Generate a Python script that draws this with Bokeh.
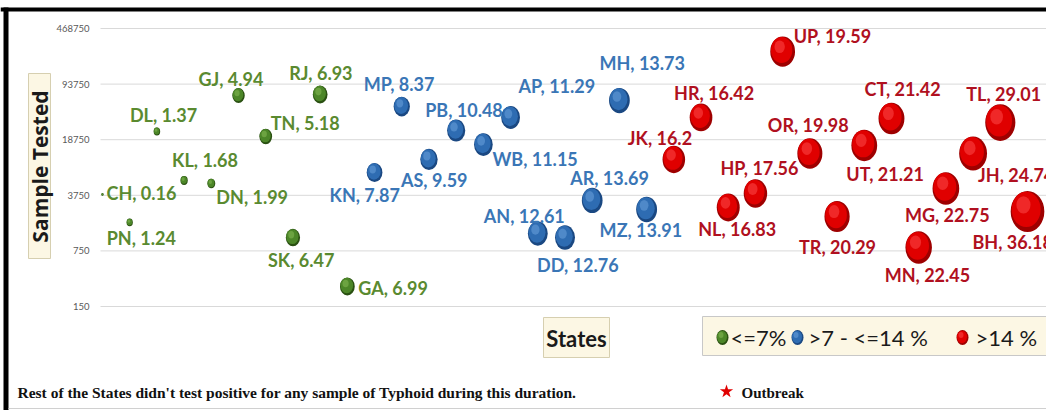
import math
from bokeh.plotting import figure
from bokeh.models import ColumnDataSource, Range1d, LinearScale, LogScale
from bokeh.core.properties import value
from bokeh.embed import file_html
from bokeh.resources import INLINE

# ---------------- data ----------------
states = ["CH", "PN", "DL", "KL", "DN", "GJ", "TN", "SK", "RJ", "GA",
          "KN", "MP", "AS", "PB", "WB", "AP", "AN", "DD", "AR", "MH", "MZ",
          "JK", "HR", "NL", "HP", "UP", "OR", "TR", "UT", "CT", "MN", "MG", "JH", "TL", "BH"]
positivity = [0.16, 1.24, 1.37, 1.68, 1.99, 4.94, 5.18, 6.47, 6.93, 6.99,
              7.87, 8.37, 9.59, 10.48, 11.15, 11.29, 12.61, 12.76, 13.69, 13.73, 13.91,
              16.2, 16.42, 16.83, 17.56, 19.59, 19.98, 20.29, 21.21, 21.42, 22.45, 22.75, 24.74, 29.01, 36.18]
samples_tested = [3840, 1710, 23800, 5760, 5280, 67400, 20600, 1105, 69400, 268,
                  7260, 49000, 10600, 24500, 16300, 35700, 1240, 1105, 3230, 58300, 2490,
                  10600, 35700, 2640, 3950, 240600, 12600, 2030, 15900, 34600, 828, 4570, 12600, 30800, 2350]
y_ticks = [150, 750, 3750, 18750, 93750, 468750]
y_tick_labels = ["150", "750", "3750", "18750", "93750", "468750"]
group_names = ["<=7%", ">7 - <=14 %", ">14 %"]
group_limits = [7, 14]
x_title = "States"
y_title = "Sample Tested"
footnote = "Rest of the States didn't test positive for any sample of Typhoid  during this duration."
outbreak_note = "Outbreak"

# ---------------- label placement (pixels, relative to bubble) ----------------
label_dx = [4, -23, -27, -12, 5, -40, 5, -25, -31, 11,
            -45, -38, -28, -31, 9, 8, -54, -28, -22, -20, -47,
            -46, -27, -30, -35, 11, -42, -38, -18, -27, -34, -41, 5, -34, -55]
label_dy = [-1, 16, -16, -20, 14, -16, -13, 22, -21, 2,
            23, -23, 21, -20, 14, -31, -18, 27, -22, -38, 21,
            -21, -24, 22, -26, -16, -28, 30, 29, -30, 28, 27, 22, -29, 31]

edge_col = ["#2A5012", "#1A4882", "#9E0000"]
mid_col = ["#4C8628", "#2E6CB2", "#E00000"]
light_col = ["#8CC05A", "#6FA6E0", "#FF5050"]
text_col = ["#5A8A30", "#3A76B6", "#B01020"]


def group_of(v):
    if v <= group_limits[0]:
        return 0
    if v <= group_limits[1]:
        return 1
    return 2


x_pos = [i + 1 for i in range(len(states))]          # states ordered by positivity
grp = [group_of(v) for v in positivity]
bw = [5.6 * math.sqrt(v) for v in positivity]          # bubble area ~ positivity
bh = [1.22 * w for w in bw]                            # picture is stretched vertically

# ---------------- canvas / scales ----------------
W, H = 1046, 410
X_FIRST, X_STEP = 102.0, 27.206       # pixel of first state, pixels per state
Y_BOT, Y_TOP = 306.0, 28.0            # pixels of lowest and highest tick
lo, hi = y_ticks[0], y_ticks[-1]
ppl = (Y_BOT - Y_TOP) / (math.log(hi) - math.log(lo))   # pixels per ln unit
val_start = math.exp(math.log(lo) - (H - Y_BOT) / ppl)
val_end = math.exp(math.log(hi) + Y_TOP / ppl)
idx_start = 1 - X_FIRST / X_STEP
idx_end = idx_start + W / X_STEP

p = figure(width=W, height=H, output_backend="svg", toolbar_location=None,
           x_range=Range1d(0, W), y_range=Range1d(H, 0),
           x_axis_location=None, y_axis_location=None,
           min_border=0, min_border_left=0, min_border_right=0,
           min_border_top=0, min_border_bottom=0)
p.outline_line_color = None
p.background_fill_color = "white"
p.border_fill_color = "white"
for gr in p.grid:
    gr.visible = False
p.extra_x_ranges = {"idx": Range1d(idx_start, idx_end)}
p.extra_x_scales = {"idx": LinearScale()}
p.extra_y_ranges = {"val": Range1d(val_start, val_end)}
p.extra_y_scales = {"val": LogScale()}

CREAM = "#FCF7E4"
BOXLINE = "#D6CFB0"

# ---------------- gridlines and tick labels (log scale) ----------------
tick_src = ColumnDataSource(dict(y=y_ticks, t=y_tick_labels))
p.segment(x0=100, x1=W, y0="y", y1="y", source=tick_src, y_range_name="val",
          line_color="#D9D9D9", line_width=1)
p.text(x=89, y="y", text="t", source=tick_src, y_range_name="val",
       text_font=value("Lato"), text_font_size="9.5px", text_color="#595959",
       text_align="right", text_baseline="middle")

# ---------------- bubbles (shaded like spheres) ----------------
def shifted(i, fx, fy):
    """bubble centre moved by a fraction of its own screen size (for shading)"""
    return (x_pos[i] + fx * bw[i] / X_STEP,
            samples_tested[i] * math.exp(-fy * bh[i] / ppl))

for g in range(3):
    idx = [i for i in range(len(states)) if grp[i] == g]
    mids = [shifted(i, -0.04, -0.05) for i in idx]
    hls = [shifted(i, -0.12, -0.16) for i in idx]
    src = ColumnDataSource(dict(
        x=[x_pos[i] for i in idx],
        y=[samples_tested[i] for i in idx],
        w=[bw[i] for i in idx], h=[bh[i] for i in idx],
        xm=[m[0] for m in mids], ym=[m[1] for m in mids],
        w2=[bw[i] * 0.86 for i in idx], h2=[bh[i] * 0.86 for i in idx],
        xh=[m[0] for m in hls], yh=[m[1] for m in hls],
        w3=[bw[i] * 0.42 for i in idx], h3=[bh[i] * 0.42 for i in idx],
    ))
    kw = dict(source=src, x_range_name="idx", y_range_name="val",
              width_units="screen", height_units="screen", line_color=None)
    p.ellipse("x", "y", width="w", height="h", fill_color=edge_col[g], **kw)
    p.ellipse("xm", "ym", width="w2", height="h2", fill_color=mid_col[g], **kw)
    p.ellipse("xh", "yh", width="w3", height="h3", fill_color=light_col[g], fill_alpha=0.5, **kw)

# ---------------- data labels ----------------
lab_src = ColumnDataSource(dict(
    x=x_pos, y=samples_tested,
    text=[f"{s}, {v:g}" for s, v in zip(states, positivity)],
    dx=label_dx, dy=label_dy,
    color=[text_col[g] for g in grp],
))
p.text("x", "y", text="text", x_offset="dx", y_offset="dy", source=lab_src,
       x_range_name="idx", y_range_name="val",
       text_font=value("Lato"), text_font_style="bold", text_font_size="18px",
       text_color="color", text_align="left", text_baseline="middle")

# ---------------- axis titles in cream boxes ----------------
p.quad(left=[28], right=[50], top=[73], bottom=[258], fill_color=CREAM, line_color=BOXLINE)
p.text(x=[39.5], y=[166], text=[y_title], angle=math.pi / 2,
       text_font=value("Open Sans"), text_font_style="bold", text_font_size="21px",
       text_color="#1A1A1A", text_align="center", text_baseline="middle")
p.quad(left=[543], right=[609], top=[317], bottom=[357], fill_color=CREAM, line_color=BOXLINE)
p.text(x=[576], y=[338], text=[x_title],
       text_font=value("Lato"), text_font_style="bold", text_font_size="22px",
       text_color="#1A1A1A", text_align="center", text_baseline="middle")

# ---------------- legend ----------------
p.quad(left=[702], right=[1052], top=[316], bottom=[355], fill_color=CREAM, line_color="#C8C8C8")
leg_x = [722, 797, 962]
leg_tx = [730, 808, 975]
for g in range(3):
    p.ellipse(x=[leg_x[g]], y=[337], width=[12], height=[15], width_units="screen",
              height_units="screen", fill_color=edge_col[g], line_color=None)
    p.ellipse(x=[leg_x[g] - 0.5], y=[336.5], width=[10], height=[12.5], width_units="screen",
              height_units="screen", fill_color=mid_col[g], line_color=None)
    p.ellipse(x=[leg_x[g] - 1.5], y=[334.5], width=[5], height=[6], width_units="screen",
              height_units="screen", fill_color=light_col[g], fill_alpha=0.5, line_color=None)
    p.text(x=[leg_tx[g]], y=[337], text=[group_names[g]],
           text_font=value("Lato"), text_font_size="22px", text_color="#1A1A1A",
           text_align="left", text_baseline="middle")

# ---------------- footnote ----------------
p.text(x=[17], y=[392], text=[footnote], text_font=value("Liberation Serif"),
       text_font_style="bold", text_font_size="15.5px", text_color="#111111",
       text_align="left", text_baseline="middle")
p.scatter(x=[726], y=[391], marker="star", size=14, fill_color="#E00000", line_color=None)
p.text(x=[741], y=[392], text=[outbreak_note], text_font=value("Liberation Serif"),
       text_font_style="bold", text_font_size="15px", text_color="#111111",
       text_align="left", text_baseline="middle")

# ---------------- black picture frame ----------------
p.quad(left=[0], right=[W], top=[7], bottom=[11], fill_color="black", line_color=None)
p.quad(left=[3], right=[8], top=[7], bottom=[H], fill_color="black", line_color=None)
p.segment(x0=[8], x1=[W], y0=[408], y1=[408], line_color="#D0D0D0", line_width=1)

open("out.html", "w").write(file_html(p, INLINE))
